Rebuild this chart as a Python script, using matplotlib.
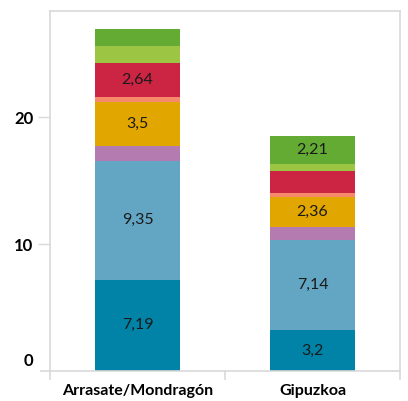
import matplotlib
matplotlib.use("Agg")
import matplotlib.pyplot as plt
import matplotlib.transforms as mtransforms
import numpy as np

plt.rcParams['font.family'] = ['Lato', 'DejaVu Sans']

categories = ["Arrasate/Mondragón", "Gipuzkoa"]
# segments from bottom to top
seg_values = [
    [7.19, 3.2],    # dark teal
    [9.35, 7.14],   # light blue
    [1.15, 1.0],    # purple
    [3.5, 2.36],    # gold
    [0.4, 0.33],    # salmon
    [2.64, 1.73],   # red
    [1.35, 0.57],   # light green
    [1.35, 2.21],   # dark green
]
seg_labels = [
    ["7,19", "3,2"],
    ["9,35", "7,14"],
    ["", ""],
    ["3,5", "2,36"],
    ["", ""],
    ["2,64", ""],
    ["", ""],
    ["", "2,21"],
]
colors = ["#0083A7", "#63A6C4", "#B47BB1", "#E1A600", "#F6896B",
          "#CC2443", "#9BC543", "#64AB33"]
yticks = [0, 10, 20]

fig = plt.figure(figsize=(4.08, 4.01), dpi=100)
ax = fig.add_axes([50/408, 1-371/401, 350/408, 360/401])

x = np.arange(len(categories))
bottom = np.zeros(len(categories))
for vals, labs, c in zip(seg_values, seg_labels, colors):
    vals = np.array(vals)
    ax.bar(x, vals, bottom=bottom, width=0.49, color=c, linewidth=0)
    for xi, v, b, lab in zip(x, vals, bottom, labs):
        if lab:
            ax.text(xi, b + v/2, lab, ha='center', va='center',
                    fontsize=11.5, color='#1a1a1a')
    bottom += vals

ax.set_xlim(-0.5, 1.5)
ax.set_ylim(0, 28.35)
ax.set_yticks(yticks)
ax.set_yticklabels([str(t) for t in yticks], fontsize=12, fontweight='bold')
ax.set_xticks(x)
ax.set_xticklabels(categories, fontsize=11.5, fontweight='bold')
ax.tick_params(axis='x', length=0, pad=9)
ax.tick_params(axis='y', length=9, color='#d9d9d9', width=1, pad=3)

# the 0 label sits above the axis line
lab0 = ax.get_yticklabels()[0]
lab0.set_transform(lab0.get_transform() +
                   mtransforms.ScaledTranslation(0, 11/100, fig.dpi_scale_trans))
ax.yaxis.get_major_ticks()[0].tick1line.set_visible(False)

for s in ['top', 'right', 'left', 'bottom']:
    ax.spines[s].set_color('#d9d9d9')
    ax.spines[s].set_linewidth(1.2)

# category separator ticks below axis
for xs in [-0.5, 0.5, 1.5]:
    ax.plot([xs, xs], [0, -0.6], color='#d9d9d9', lw=1.2, clip_on=False)
# bottom axis extends a bit to the left
ax.plot([-0.5 - 9/175, -0.5], [0, 0], color='#d9d9d9', lw=1.2, clip_on=False)

fig.savefig("out.png", dpi=100)
